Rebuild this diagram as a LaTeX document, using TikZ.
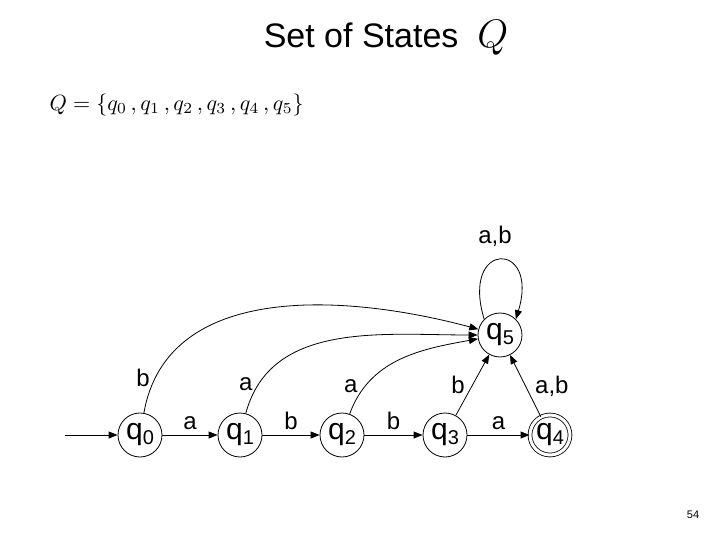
\documentclass[tikz,border=0pt]{standalone}
\usepackage{fontspec}
\setmainfont{Liberation Sans}
\usetikzlibrary{arrows.meta}
\newcommand{\qs}[1]{q\raisebox{-5pt}{\fontsize{20}{22}\selectfont #1}}
\begin{document}
\begin{tikzpicture}[x=1pt,y=-1pt,
  st/.style={circle,draw,thick,minimum size=44pt,inner sep=0pt,font=\fontsize{30}{32}\selectfont},
  acc/.style={st,double,double distance=3pt,minimum size=40pt},
  ed/.style={-{Triangle[length=9pt,width=7pt]},thick},
  lb/.style={font=\fontsize{24}{26}\selectfont}]
\useasboundingbox (0,0) rectangle (720,540);
\node (title) at (386,38) {\fontsize{34}{36}\selectfont Set of States \ \scalebox{1.6}{$Q$}};
\node[anchor=west] (form) at (46,105) {\scalebox{2.2}{$Q=\{q_0\,,q_1\,,q_2\,,q_3\,,q_4\,,q_5\}$}};
\node[st] (q0) at (140,435) {\qs0};
\node[st] (q1) at (240,435) {\qs1};
\node[st] (q2) at (342,435) {\qs2};
\node[st] (q3) at (445,435) {\qs3};
\node[acc] (q4) at (550,435) {\qs4};
\node[st] (q5) at (500,335) {\qs5};
\coordinate (in) at (65,435);
\draw[ed] (in) -- (q0);
\draw[ed] (q0) -- node[lb,above=2pt]{a} (q1);
\draw[ed] (q1) -- node[lb,above=2pt]{b} (q2);
\draw[ed] (q2) -- node[lb,above=2pt]{b} (q3);
\draw[ed] (q3) -- node[lb,above=2pt]{a} (q4);
\draw[ed] (q4) -- node[lb,right=6pt]{a,b} (q5);
\draw[ed] (q3) -- node[lb,left=4pt]{b} (q5);
\draw[ed] (q2) to[out=70,in=190] node[lb,left=4pt,pos=0.2]{a} (q5);
\draw[ed] (q1) to[out=75,in=180] node[lb,left=2pt,pos=0.12]{a} (q5);
\draw[ed] (q0) to[out=80,in=165] node[lb,left=2pt,pos=0.1]{b} (q5);
\draw[ed] (q5.north west) .. controls (460,240) and (540,240) .. (q5.north east);
\node[lb] (lab) at (495,236) {a,b};
\node[font=\fontsize{11}{12}\selectfont] (pg) at (693,515) {54};
\end{tikzpicture}
\end{document}
